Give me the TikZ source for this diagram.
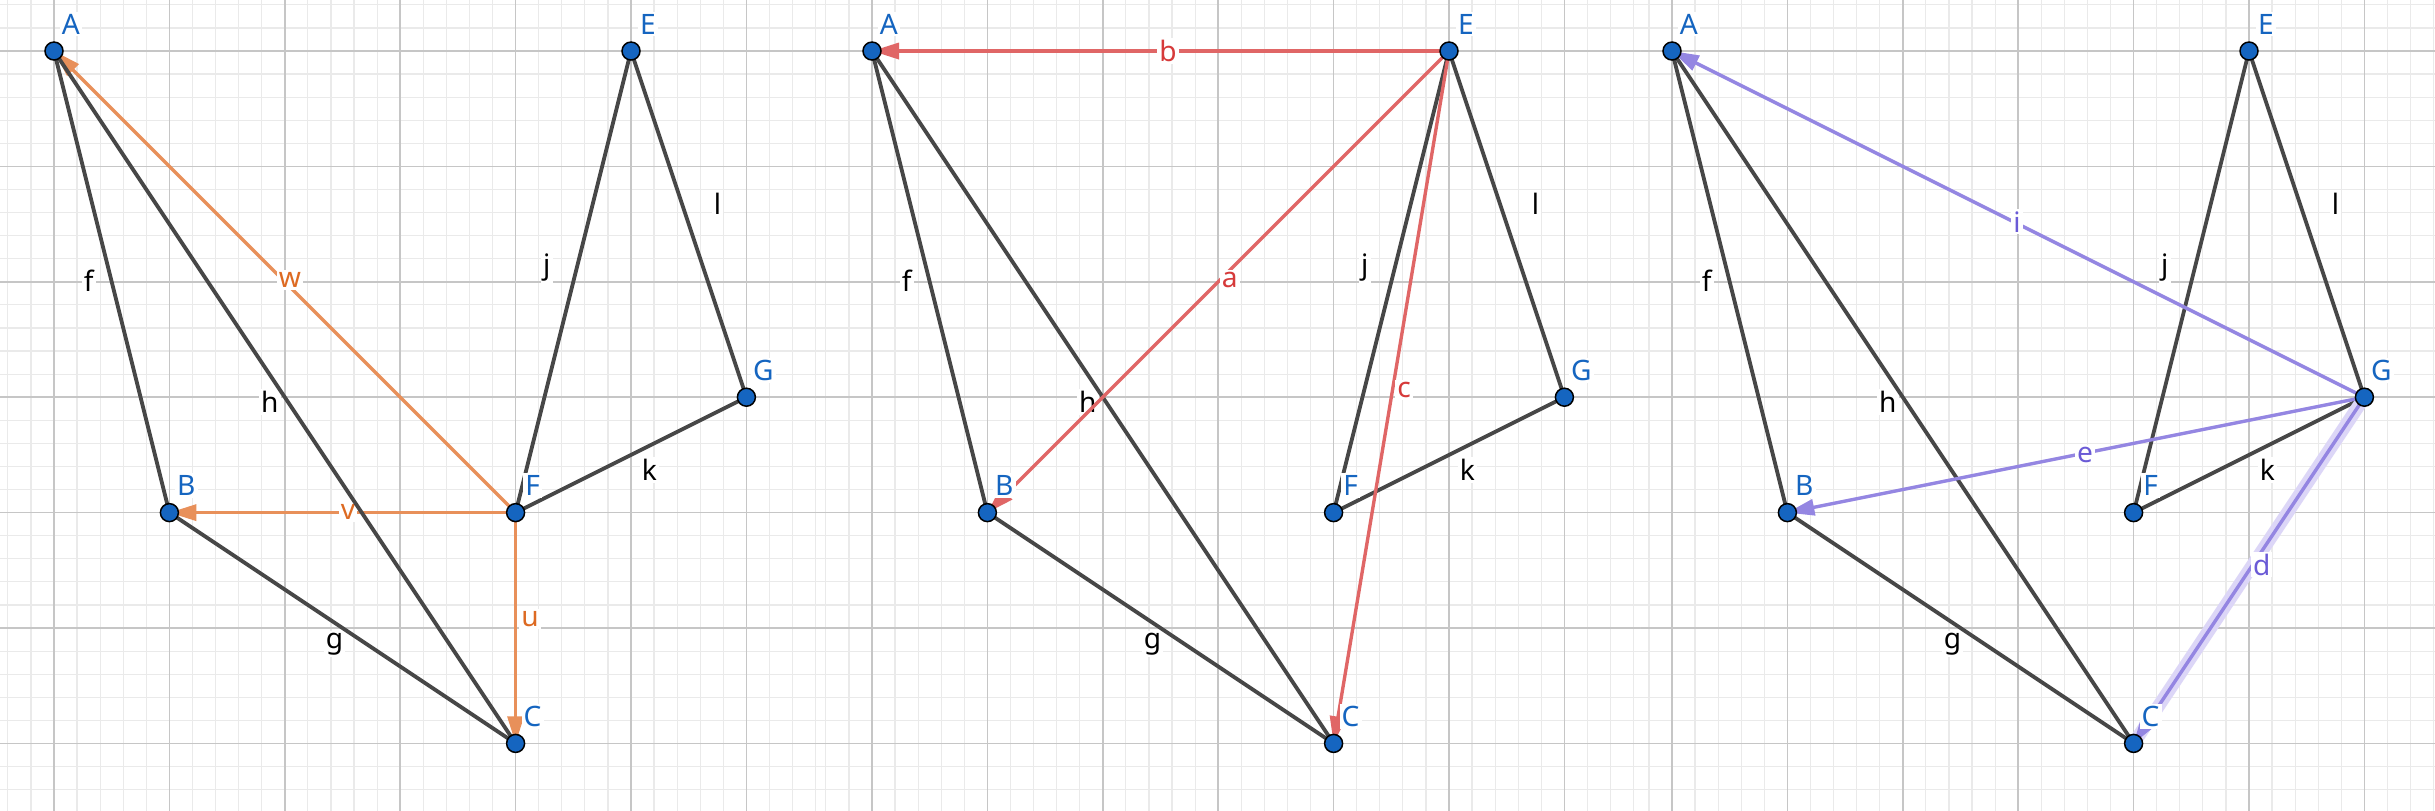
\documentclass[tikz,border=0pt]{standalone}
\usepackage{fontspec}
\setmainfont{Noto Sans}
\usetikzlibrary{arrows.meta}
\definecolor{ptblue}{HTML}{1565C0}
\definecolor{seggray}{HTML}{474747}
\definecolor{gridmajor}{HTML}{C6C6C6}
\definecolor{gridminor}{HTML}{EAEAEA}
\definecolor{orline}{HTML}{E8905A}
\definecolor{ortext}{HTML}{DD6A22}
\definecolor{redline}{HTML}{E06666}
\definecolor{redtext}{HTML}{D63A3A}
\definecolor{puline}{HTML}{9486E2}
\definecolor{putext}{HTML}{6A5AD6}
\definecolor{puhalo}{HTML}{DCD6F7}
\tikzset{
  seg/.style={draw=seggray, line width=0.038cm, line cap=round},
  vec/.style={line width=0.034cm, -{Triangle[length=0.27cm,width=0.16cm]}},
  pt/.style={circle, fill=ptblue, draw=black, line width=0.015cm, minimum size=0.18cm, inner sep=0pt},
  lbl/.style={font=\fontsize{8}{9}\selectfont, fill=white, inner sep=0.6pt},
  ptlabel/.style={lbl, text=ptblue},
  seglabel/.style={lbl, text=black},
  minorgrid/.style={draw=gridminor, line width=0.012cm},
  majorgrid/.style={draw=gridmajor, line width=0.016cm},
  panel/.style={x=1.154cm, y=-1.154cm}
}
% #1 suffix, #2 origin x (cm), #3 clip left, #4 clip right (local units)
\newcommand{\mkpanel}[4]{%
  \begin{scope}[shift={(#2,-0.51)}, panel]
    \begin{scope}
      \clip (#3,-0.45) rectangle (#4,6.6);
      \foreach \i in {-3,...,34} \draw[minorgrid] (\i/5,-1) -- (\i/5,7);
      \foreach \i in {-3,...,34} \draw[minorgrid] (-1,\i/5) -- (8,\i/5);
      \foreach \i in {-1,...,7} \draw[majorgrid] (\i,-1) -- (\i,7);
      \foreach \i in {-1,...,7} \draw[majorgrid] (-1,\i) -- (8,\i);
    \end{scope}
    \coordinate (A#1) at (0,0);
    \coordinate (B#1) at (1,4);
    \coordinate (C#1) at (4,6);
    \coordinate (E#1) at (5,0);
    \coordinate (F#1) at (4,4);
    \coordinate (G#1) at (6,3);
    \node[seglabel] (lf#1) at (0.30,1.99) {f};
    \node[seglabel] (lh#1) at (1.87,3.04) {h};
    \node[seglabel] (lg#1) at (2.43,5.14) {g};
    \node[seglabel] (lj#1) at (4.27,1.88) {j};
    \node[seglabel] (ll#1) at (5.75,1.32) {l};
    \node[seglabel] (lk#1) at (5.16,3.63) {k};
  \end{scope}}
\newcommand{\mksegs}[1]{%
  \draw[seg] (A#1) -- (B#1);
  \draw[seg] (A#1) -- (C#1);
  \draw[seg] (B#1) -- (C#1);
  \draw[seg] (F#1) -- (E#1);
  \draw[seg] (E#1) -- (G#1);
  \draw[seg] (F#1) -- (G#1);}
\newcommand{\mkpoints}[2]{%
  \begin{scope}[shift={(#2,-0.51)}, panel]
    \foreach \p/\x/\y in {A/0/0, B/1/4, C/4/6, E/5/0, F/4/4, G/6/3} {
      \node[pt] (p\p#1) at (\p#1) {};
      \node[ptlabel] (t\p#1) at (\x+0.147,\y-0.234) {\p};
    }
  \end{scope}}
\begin{document}
\begin{tikzpicture}
\useasboundingbox (0,0) rectangle (24.35,-8.10);
\fill[white] (0,0) rectangle (24.35,-8.10);
% panel 1
\mkpanel{1}{0.54}{-0.47}{6.655}
\begin{scope}[shift={(0.54,-0.51)}, panel]
  \draw[vec, draw=orline, fill=orline] (F1) -- (A1);
  \draw[vec, draw=orline, fill=orline] (F1) -- (B1);
  \draw[vec, draw=orline, fill=orline] (F1) -- (C1);
  \node[lbl, text=ortext] (lw) at (2.045,1.984) {w};
  \node[lbl, text=ortext] (lv) at (2.548,3.995) {v};
  \node[lbl, text=ortext] (lu) at (4.125,4.92) {u};
\end{scope}
\mksegs{1}
\mkpoints{1}{0.54}
% panel 2
\mkpanel{2}{8.72}{-0.433}{6.664}
\mksegs{2}
\begin{scope}[shift={(8.72,-0.51)}, panel]
  \draw[vec, draw=redline, fill=redline] (E2) -- (A2);
  \draw[vec, draw=redline, fill=redline] (E2) -- (B2);
  \draw[vec, draw=redline, fill=redline] (E2) -- (C2);
  \node[lbl, text=redtext] (lb) at (2.565,0) {b};
  \node[lbl, text=redtext] (la) at (3.10,1.98) {a};
  \node[lbl, text=redtext] (lc) at (4.61,2.94) {c};
\end{scope}
\mkpoints{2}{8.72}
% panel 3
\mkpanel{3}{16.72}{-0.269}{6.62}
\mksegs{3}
\begin{scope}[shift={(16.72,-0.51)}, panel]
  \draw[draw=puhalo, line width=0.13cm] (G3) -- (C3);
  \draw[vec, draw=puline, fill=puline] (G3) -- (A3);
  \draw[vec, draw=puline, fill=puline] (G3) -- (B3);
  \draw[vec, draw=puline, fill=puline] (G3) -- (C3);
  \node[lbl, text=putext] (li) at (2.99,1.48) {i};
  \node[lbl, text=putext] (le) at (3.58,3.50) {e};
  \node[lbl, text=putext] (ld) at (5.11,4.45) {d};
\end{scope}
\mkpoints{3}{16.72}
\end{tikzpicture}
\end{document}
